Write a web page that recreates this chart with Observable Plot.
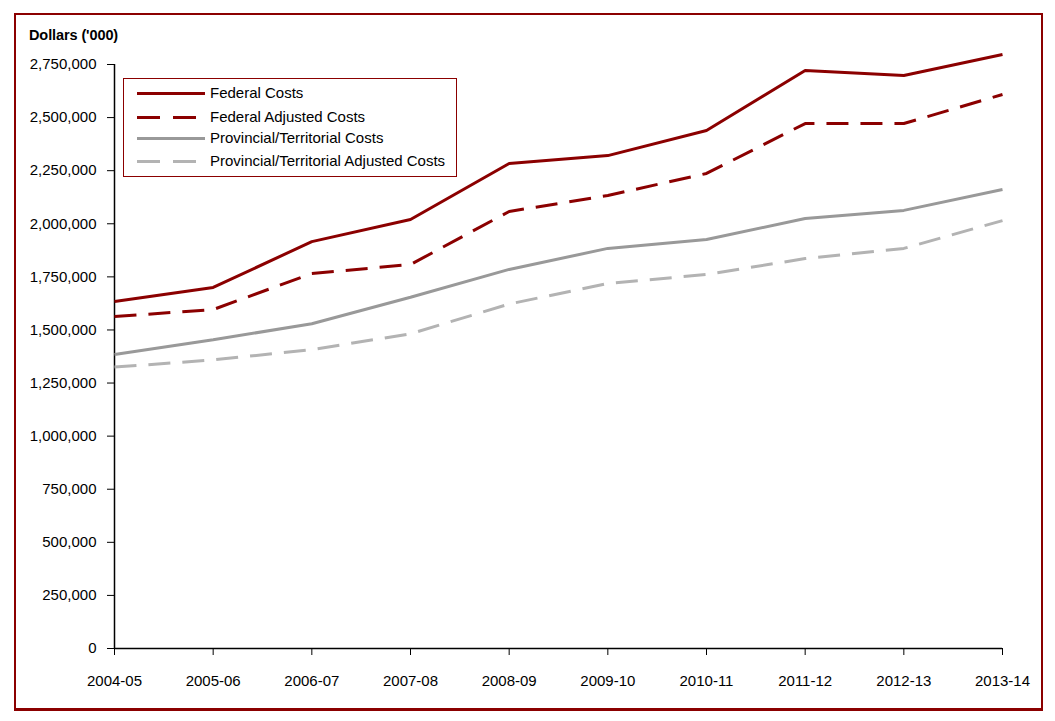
<!DOCTYPE html>
<html>
<head>
<meta charset="utf-8">
<script src="https://cdn.jsdelivr.net/npm/d3@7"></script>
<script src="https://cdn.jsdelivr.net/npm/@observablehq/plot@0.6"></script>
<style>
  html, body { margin: 0; padding: 0; background: #fff; }
  body { width: 1055px; height: 721px; position: relative; overflow: hidden; font-family: "Liberation Sans", Arial, sans-serif; }
  #frame { position: absolute; left: 14px; top: 13px; width: 1025px; height: 693px; border: 2px solid #8B0000; border-bottom-width: 3px; }
  #chart { position: absolute; left: 0; top: 0; }
  #ytitle { position: absolute; left: 29px; top: 27px; font-size: 14.5px; font-weight: bold; color: #000; letter-spacing: -0.1px; }
  #legend { position: absolute; left: 123px; top: 78px; width: 332px; height: 97px; border: 1.5px solid #8B0000; background: #fff; }
  .row { position: absolute; left: 0; height: 20px; font-size: 15px; color: #000; }
  .row svg { position: absolute; left: 13px; top: 0; }
  .row span { position: absolute; left: 86px; top: 0px; white-space: nowrap; }
</style>
</head>
<body>
<div id="frame"></div>
<div id="chart"></div>
<div id="ytitle">Dollars ('000)</div>
<div id="legend"></div>
<script>
const years = ["2004-05","2005-06","2006-07","2007-08","2008-09","2009-10","2010-11","2011-12","2012-13","2013-14"];
const federalCosts = [1634000,1700000,1916000,2020000,2284000,2321000,2439000,2722000,2698000,2797000];
const federalAdjusted = [1563000,1596000,1766000,1808000,2058000,2133000,2237000,2472000,2472000,2609000];
const provincialCosts = [1384000,1454000,1529000,1654000,1785000,1884000,1926000,2025000,2063000,2161000];
const provincialAdjusted = [1325000,1359000,1407000,1482000,1622000,1719000,1761000,1836000,1884000,2015000];
const yTicks = [0,250000,500000,750000,1000000,1250000,1500000,1750000,2000000,2250000,2500000,2750000];

const seriesNames = ["Federal Costs","Federal Adjusted Costs","Provincial/Territorial Costs","Provincial/Territorial Adjusted Costs"];
const seriesValues = [federalCosts, federalAdjusted, provincialCosts, provincialAdjusted];
const seriesColor = ["#8B0000","#8B0000","#999999","#b3b3b3"];
const seriesDash = [null,"22,12",null,"22,12"];

const data = [];
seriesNames.forEach((name, si) => {
  years.forEach((yr, i) => data.push({series: name, year: yr, value: seriesValues[si][i]}));
});

const fmt = d3.format(",");

const marks = [
  Plot.axisY({ticks: yTicks, tickSize: 7, tickPadding: 11, tickFormat: d => fmt(d), fontSize: 15, label: null}),
  Plot.axisX({tickSize: 7, tickPadding: 20, fontSize: 15, label: null}),
  Plot.ruleX([years[0]], {y1: 0, y2: 2750000, stroke: "#000", strokeWidth: 1.5}),
  Plot.ruleY([0], {stroke: "#000", strokeWidth: 1.5}),
];
seriesNames.forEach((name, si) => {
  marks.push(Plot.line(data.filter(d => d.series === name), {
    x: "year", y: "value",
    stroke: seriesColor[si], strokeWidth: 3,
    strokeDasharray: seriesDash[si] || undefined,
    strokeLinejoin: "miter", strokeLinecap: "butt"
  }));
});

const chart = Plot.plot({
  width: 1055,
  height: 721,
  marginLeft: 114,
  marginRight: 53,
  marginTop: 64,
  marginBottom: 73,
  style: {fontFamily: "'Liberation Sans', Arial, sans-serif", color: "#000", background: "transparent", overflow: "visible"},
  x: {type: "point", domain: years, padding: 0, round: false},
  y: {domain: [0, 2750000]},
  marks
});
document.getElementById("chart").appendChild(chart);

// legend
const legend = document.getElementById("legend");
const rowTops = [5, 29, 50, 73];
seriesNames.forEach((name, si) => {
  const row = document.createElement("div");
  row.className = "row";
  row.style.top = rowTops[si] + "px";
  const dash = seriesDash[si] ? `stroke-dasharray="23,13"` : "";
  row.innerHTML = `<svg width="70" height="20"><line x1="0" x2="68" y1="9.5" y2="9.5" stroke="${seriesColor[si]}" stroke-width="3" ${dash}/></svg><span>${name}</span>`;
  legend.appendChild(row);
});
</script>
</body>
</html>
